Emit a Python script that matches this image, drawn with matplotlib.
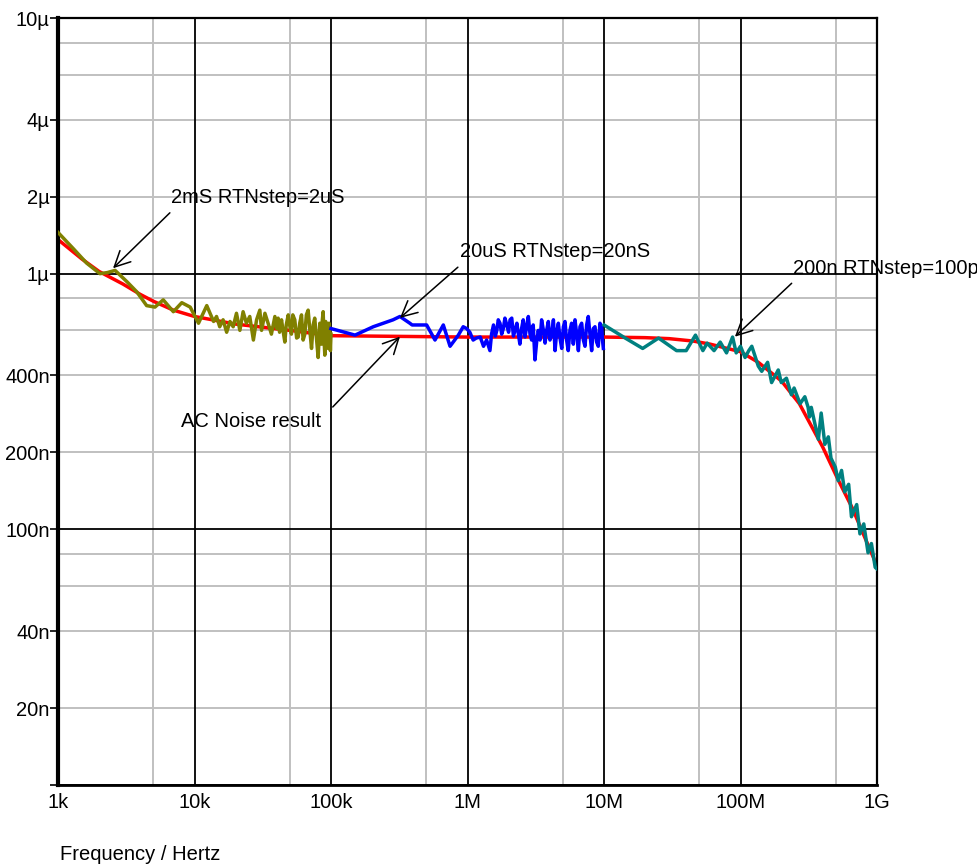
import matplotlib
matplotlib.use("Agg")
import matplotlib.pyplot as plt
from matplotlib.ticker import FixedLocator, FixedFormatter, NullLocator

plt.rcParams['font.family'] = ['Liberation Sans', 'DejaVu Sans']

# ---- data (voltages in µV, frequency in Hz) ----
freq_red = [1e3, 1.5e3, 2e3, 3e3, 4e3, 5e3, 7e3, 1e4, 2e4, 5e4, 1e5, 1e6, 1e7, 2e7, 3e7, 4.5e7,
            6e7, 8e7, 1e8, 1.35e8, 2e8, 2.7e8, 4e8, 5.2e8, 6.6e8, 8e8, 1e9]
v_red = [1.36, 1.14, 1.02, 0.91, 0.83, 0.78, 0.72, 0.68, 0.635, 0.60, 0.572, 0.565, 0.565, 0.562,
         0.557, 0.545, 0.53, 0.51, 0.495, 0.45, 0.38, 0.31, 0.21, 0.156, 0.121, 0.095, 0.072]

freq_olive = [1e3, 1.3e3, 1.62e3, 2.03e3, 2.3e3, 2.62e3, 3.2e3, 3.77e3, 4.46e3, 5.13e3, 5.9e3,
              7.0e3, 8.07e3, 9.3e3, 10.7e3, 12.3e3, 13.0e3, 13.8e3, 14.5e3, 15.3e3, 16.2e3,
              17.2e3, 18.2e3, 19.2e3, 20.3e3, 21.5e3, 22.7e3, 24.0e3, 25.4e3, 27.0e3, 28.5e3,
              30.1e3, 31e3, 32.8e3, 34.6e3, 36.6e3, 38.8e3, 40e3, 41e3, 42e3, 43.4e3, 44.5e3,
              45.9e3, 47e3, 48.6e3, 50e3, 51.3e3, 52.5e3, 54.3e3, 56e3, 57.5e3, 59e3, 60.8e3,
              62.5e3, 64.3e3, 66e3, 68e3, 70e3, 72e3, 74e3, 76e3, 78e3, 80.5e3, 82.8e3, 84e3,
              85.2e3, 86.4e3, 87.6e3, 89e3, 90.1e3, 91.4e3, 92.7e3, 94e3, 95.4e3, 96.8e3,
              98.1e3, 99e3, 1e5]
v_olive = [1.45, 1.25, 1.10, 1.00, 1.01, 1.03, 0.93, 0.85, 0.75, 0.74, 0.79,
           0.71, 0.77, 0.74, 0.64, 0.75, 0.70, 0.65, 0.68, 0.62, 0.66,
           0.59, 0.65, 0.62, 0.70, 0.60, 0.71, 0.64, 0.68, 0.55, 0.66,
           0.72, 0.60, 0.70, 0.64, 0.58, 0.68, 0.61, 0.67, 0.59, 0.66, 0.60,
           0.54, 0.63, 0.69, 0.62, 0.58, 0.69, 0.66, 0.56, 0.565, 0.64, 0.69,
           0.55, 0.58, 0.69, 0.72, 0.60, 0.51, 0.63, 0.67, 0.57, 0.47, 0.64, 0.58,
           0.53, 0.66, 0.71, 0.55, 0.48, 0.65, 0.62, 0.52, 0.51, 0.64,
           0.60, 0.50, 0.58]

freq_blue = [1e5, 1.5e5, 2.04e5, 2.85e5, 3.2e5, 3.78e5, 3.93e5, 5.02e5, 5.78e5, 6.65e5, 7.45e5,
             8.57e5, 9.3e5, 9.86e5, 1.04e6, 1.10e6, 1.16e6, 1.24e6, 1.31e6, 1.38e6, 1.46e6,
             1.50e6, 1.55e6, 1.60e6, 1.64e6, 1.68e6, 1.73e6, 1.78e6, 1.83e6, 1.88e6, 1.94e6,
             2.00e6, 2.05e6, 2.11e6, 2.17e6, 2.23e6, 2.30e6, 2.36e6, 2.42e6, 2.49e6, 2.56e6,
             2.64e6, 2.71e6, 2.79e6, 2.87e6, 2.95e6, 3.03e6, 3.12e6, 3.21e6, 3.30e6, 3.40e6,
             3.49e6, 3.60e6, 3.70e6, 3.80e6, 3.91e6, 4.02e6, 4.14e6, 4.26e6, 4.38e6, 4.50e6,
             4.63e6, 4.76e6, 4.90e6, 5.04e6, 5.18e6, 5.32e6, 5.47e6, 5.63e6, 5.79e6, 5.96e6,
             6.13e6, 6.31e6, 6.49e6, 6.67e6, 6.86e6, 7.06e6, 7.26e6, 7.46e6, 7.67e6, 7.89e6,
             8.12e6, 8.35e6, 8.59e6, 8.83e6, 9.08e6, 9.34e6, 9.61e6, 9.75e6, 9.89e6]
v_blue = [0.61, 0.575, 0.62, 0.66, 0.68, 0.64, 0.63, 0.63, 0.55, 0.63, 0.52,
          0.575, 0.62, 0.61, 0.59, 0.55, 0.56, 0.565, 0.52, 0.55, 0.50,
          0.58, 0.63, 0.57, 0.60, 0.66, 0.64, 0.58, 0.61, 0.67, 0.63,
          0.59, 0.66, 0.67, 0.57, 0.60, 0.64, 0.58, 0.53, 0.61, 0.66,
          0.565, 0.62, 0.68, 0.58, 0.55, 0.63, 0.46, 0.54, 0.60, 0.55,
          0.66, 0.60, 0.535, 0.60, 0.65, 0.55, 0.58, 0.66, 0.50, 0.59,
          0.64, 0.56, 0.51, 0.62, 0.65, 0.55, 0.50, 0.60, 0.64, 0.53,
          0.66, 0.58, 0.50, 0.62, 0.64, 0.55, 0.52, 0.63, 0.68, 0.58,
          0.50, 0.61, 0.62, 0.54, 0.52, 0.64, 0.62, 0.55, 0.51]

freq_teal = [1e7, 1.43e7, 1.92e7, 2.51e7, 3.4e7, 4.0e7, 4.68e7, 5.3e7, 5.7e7, 6.4e7, 7.1e7,
             7.9e7, 8.75e7, 9.3e7, 1.0e8, 1.08e8, 1.15e8, 1.21e8, 1.35e8, 1.43e8, 1.58e8,
             1.69e8, 1.89e8, 1.99e8, 2.17e8, 2.36e8, 2.47e8, 2.73e8, 2.96e8, 3.13e8, 3.2e8,
             3.3e8, 3.5e8, 3.72e8, 3.9e8, 4.15e8, 4.4e8, 4.6e8, 4.95e8, 5.2e8, 5.5e8, 5.8e8,
             6.2e8, 6.5e8, 7.1e8, 7.5e8, 8.0e8, 8.6e8, 9.1e8, 9.7e8, 1e9]
v_teal = [0.63, 0.56, 0.51, 0.56, 0.50, 0.50, 0.575, 0.50, 0.535, 0.50, 0.54,
          0.49, 0.565, 0.49, 0.52, 0.47, 0.50, 0.52, 0.435, 0.415, 0.45,
          0.375, 0.42, 0.375, 0.39, 0.336, 0.357, 0.31, 0.33, 0.30, 0.275,
          0.30, 0.26, 0.225, 0.285, 0.215, 0.23, 0.19, 0.175, 0.155, 0.17, 0.14,
          0.15, 0.112, 0.125, 0.096, 0.105, 0.081, 0.088, 0.071, 0.07]

x_ticks = [1e3, 1e4, 1e5, 1e6, 1e7, 1e8, 1e9]
x_labels = ['1k', '10k', '100k', '1M', '10M', '100M', '1G']
y_ticks = [1e-8, 2e-8, 4e-8, 1e-7, 2e-7, 4e-7, 1e-6, 2e-6, 4e-6, 1e-5]
y_labels = ['', '20n', '40n', '100n', '200n', '400n', '1µ', '2µ', '4µ', '10µ']
y_major_grid = [1e-8, 1e-7, 1e-6, 1e-5]
y_minor_grid = [m * d for d in (1e-8, 1e-7, 1e-6) for m in (2, 4, 6, 8)]
x_minor_grid = [5 * d for d in (1e3, 1e4, 1e5, 1e6, 1e7, 1e8)]

# ---- figure ----
W, H = 978, 865
fig = plt.figure(figsize=(W / 100, H / 100), dpi=100)
ax = fig.add_axes([58 / W, 1 - 785 / H, (877 - 58) / W, (785 - 18) / H])
ax.set_xscale('log')
ax.set_yscale('log')
ax.set_xlim(1e3, 1e9)
ax.set_ylim(1e-8, 1e-5)

grey = '#c0c0c0'
for y in y_minor_grid:
    ax.axhline(y, color=grey, lw=1.4, zorder=0.5)
for x in x_minor_grid:
    ax.axvline(x, color=grey, lw=1.4, zorder=0.5)
for y in y_major_grid:
    ax.axhline(y, color='black', lw=1.3, zorder=0.6)
for x in x_ticks:
    ax.axvline(x, color='black', lw=1.3, zorder=0.6)

lw = 2.5
ax.plot(freq_red, [v * 1e-6 for v in v_red], color='#ff0000', lw=lw, zorder=2)
ax.plot(freq_olive, [v * 1e-6 for v in v_olive], color='#808000', lw=lw, zorder=3)
ax.plot(freq_blue, [v * 1e-6 for v in v_blue], color='#0000ff', lw=lw, zorder=3)
ax.plot(freq_teal, [v * 1e-6 for v in v_teal], color='#008080', lw=lw, zorder=3)

fs = 14.5
ax.xaxis.set_major_locator(FixedLocator(x_ticks))
ax.xaxis.set_major_formatter(FixedFormatter(x_labels))
ax.xaxis.set_minor_locator(NullLocator())
ax.yaxis.set_major_locator(FixedLocator(y_ticks))
ax.yaxis.set_major_formatter(FixedFormatter(y_labels))
ax.yaxis.set_minor_locator(NullLocator())
ax.tick_params(axis='x', length=0, pad=6, labelsize=fs)
ax.tick_params(axis='y', length=6, width=1.2, pad=0, labelsize=fs, direction='out')

for s in ['top', 'right']:
    ax.spines[s].set_linewidth(1.6)
ax.spines['left'].set_linewidth(3)
ax.spines['bottom'].set_linewidth(2)

arrow = dict(arrowstyle='->', color='black', lw=1.1, mutation_scale=28, shrinkA=0, shrinkB=0)

ax.annotate('', xy=(2.53e3, 1.05e-6), xytext=(6.6e3, 1.73e-6), arrowprops=arrow, zorder=5)
ax.text(6.7e3, 1.98e-6, '2mS RTNstep=2uS', fontsize=fs, ha='left', va='center', zorder=5)

ax.annotate('', xy=(3.2e5, 0.671e-6), xytext=(8.5e5, 1.06e-6), arrowprops=arrow, zorder=5)
ax.text(8.81e5, 1.22e-6, '20uS RTNstep=20nS', fontsize=fs, ha='left', va='center', zorder=5)

ax.annotate('', xy=(9.1e7, 0.567e-6), xytext=(2.37e8, 0.917e-6), arrowprops=arrow, zorder=5)
ax.text(2.43e8, 1.05e-6, '200n RTNstep=100p', fontsize=fs, ha='left', va='center',
        zorder=5, clip_on=False)

ax.annotate('', xy=(3.2e5, 0.567e-6), xytext=(1.03e5, 0.301e-6), arrowprops=arrow, zorder=5)
ax.text(7.96e3, 0.263e-6, 'AC Noise result', fontsize=fs, ha='left', va='center', zorder=5)

fig.text(60 / W, 1 - 855 / H, 'Frequency / Hertz', fontsize=fs, ha='left', va='center')

fig.savefig('out.png', dpi=100, facecolor='white')
